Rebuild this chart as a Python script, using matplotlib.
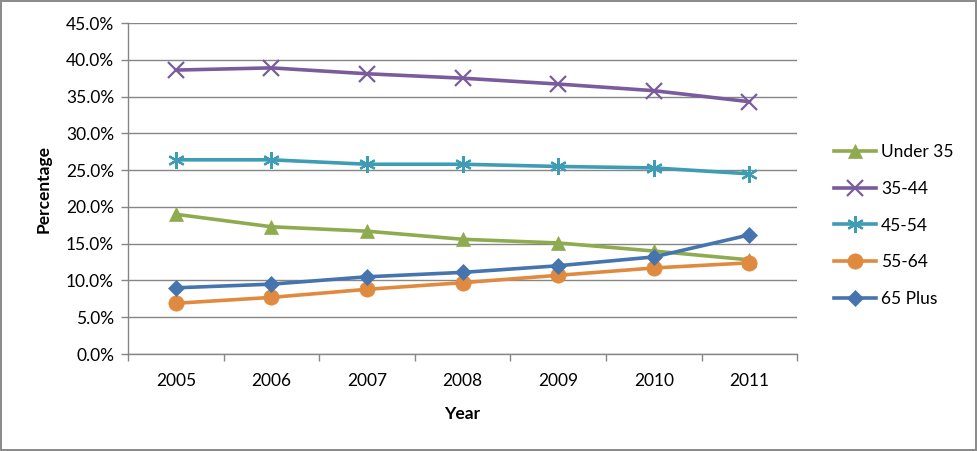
import matplotlib.pyplot as plt
from matplotlib.ticker import FuncFormatter, FixedLocator

plt.rcParams['font.family'] = ['Lato', 'DejaVu Sans']

years = [2005, 2006, 2007, 2008, 2009, 2010, 2011]
under_35 = [19.0, 17.3, 16.7, 15.6, 15.1, 14.0, 12.8]
age_35_44 = [38.6, 38.9, 38.1, 37.5, 36.7, 35.8, 34.3]
age_45_54 = [26.4, 26.4, 25.8, 25.8, 25.5, 25.3, 24.5]
age_55_64 = [6.9, 7.7, 8.8, 9.7, 10.7, 11.7, 12.4]
plus_65 = [9.0, 9.5, 10.5, 11.1, 12.0, 13.2, 16.2]

series = [
    ('Under 35', under_35, '#8FAB4F', '^', 10, 0),
    ('35-44', age_35_44, '#7A5C9C', 'x', 11, 1.6),
    ('45-54', age_45_54, '#3E9CB5', (6, 2, 0), 12, 1.6),
    ('55-64', age_55_64, '#E08A40', 'o', 11, 0),
    ('65 Plus', plus_65, '#4674AE', 'D', 8, 0),
]

fig = plt.figure(figsize=(9.77, 4.51), dpi=100, edgecolor='#8c8c8c', linewidth=1.5)
ax = fig.add_axes([0.131, 0.215, 0.685, 0.734])

x = list(range(len(years)))
for name, vals, col, mk, ms, mew in series:
    ax.plot(x, vals, color=col, lw=2.6, marker=mk, markersize=ms,
            markeredgewidth=mew if mew else 0.5, markeredgecolor=col,
            markerfacecolor=col, label=name)

ax.set_xlim(-0.5, len(years) - 0.5)
ax.set_ylim(0, 45)
ax.set_yticks(range(0, 50, 5))
ax.yaxis.set_major_formatter(FuncFormatter(lambda v, p: f'{v:.1f}%'))
ax.set_xticks(x)
ax.set_xticklabels([str(y) for y in years])
ax.xaxis.set_minor_locator(FixedLocator([i - 0.5 for i in range(len(years) + 1)]))
ax.tick_params(axis='x', which='major', length=0, pad=14, labelsize=12.5)
ax.tick_params(axis='x', which='minor', length=5, color='#868686', width=1)
ax.tick_params(axis='y', length=5, color='#868686', width=1, labelsize=12.5, pad=5)

ax.grid(axis='y', color='#868686', lw=1)
ax.set_axisbelow(True)
for s in ['top', 'right']:
    ax.spines[s].set_visible(False)
for s in ['left', 'bottom']:
    ax.spines[s].set_color('#868686')
    ax.spines[s].set_linewidth(1)

ax.set_xlabel('Year', fontsize=12.5, fontweight='bold', labelpad=12)
ax.set_ylabel('Percentage', fontsize=12.5, fontweight='bold', labelpad=10)

fig.legend(*ax.get_legend_handles_labels(), loc='center left',
           bbox_to_anchor=(0.838, 0.5), frameon=False,
           fontsize=12.5, labelspacing=1.2, handlelength=2.4, handletextpad=0.3)

fig.savefig('out.png', dpi=100)
